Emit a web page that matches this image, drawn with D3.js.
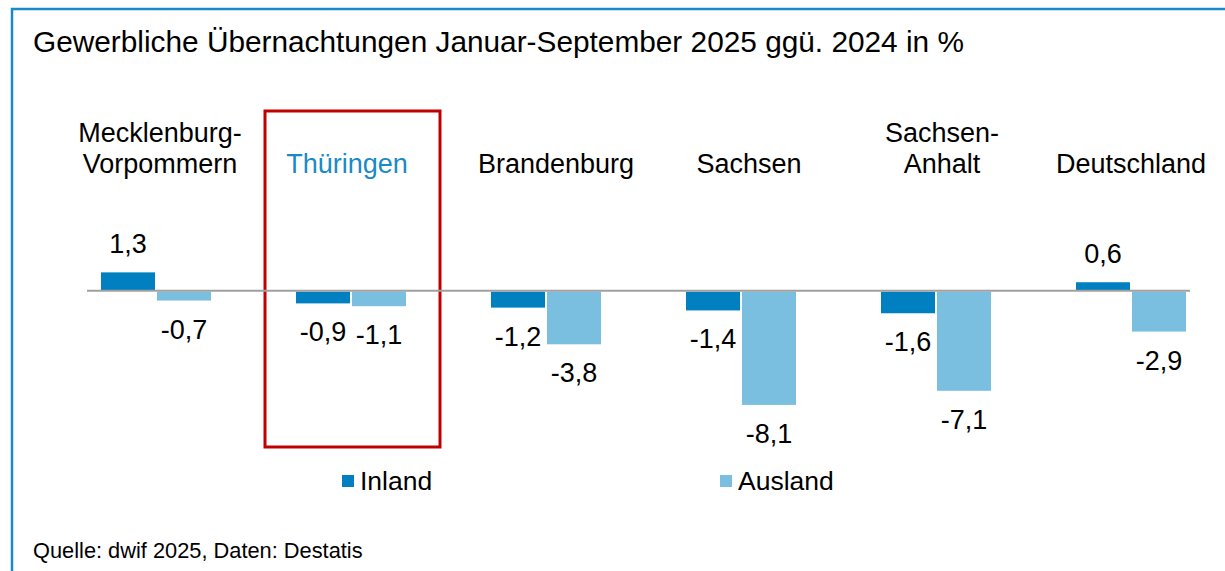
<!DOCTYPE html>
<html>
<head>
<meta charset="utf-8">
<script src="https://cdn.jsdelivr.net/npm/d3@7"></script>
<style>
  body { margin: 0; background: #fff; }
  svg { display: block; font-family: Arial, "Liberation Sans", sans-serif; }
</style>
</head>
<body>
<div id="chart"></div>
<script>
var width = 1225;
var height = 571;

// data
var regions = ["Mecklenburg-Vorpommern", "Thüringen", "Brandenburg", "Sachsen", "Sachsen-Anhalt", "Deutschland"];
var regionLines = [["Mecklenburg-", "Vorpommern"], ["Thüringen"], ["Brandenburg"], ["Sachsen"], ["Sachsen-", "Anhalt"], ["Deutschland"]];
var inland = [1.3, -0.9, -1.2, -1.4, -1.6, 0.6];
var ausland = [-0.7, -1.1, -3.8, -8.1, -7.1, -2.9];
var seriesNames = ["Inland", "Ausland"];
var colors = ["#0080c0", "#7bbfe0"];
var highlight = "Thüringen";

// the hand-placed region labels sit a little off the group centre
var labelShift = [4, -4, 10, 8, 6, 0];

var svg = d3.select("#chart").append("svg")
    .attr("width", width)
    .attr("height", height);

// outer blue frame (runs off the right/bottom edge)
svg.append("rect")
    .attr("x", 12).attr("y", 9)
    .attr("width", 1240).attr("height", 600)
    .attr("fill", "none")
    .attr("stroke", "#1a8ac6")
    .attr("stroke-width", 2.5);

svg.append("text")
    .attr("x", 33).attr("y", 52)
    .style("font-size", "29.8px")
    .attr("fill", "#000")
    .text("Gewerbliche Übernachtungen Januar-September 2025 ggü. 2024 in %");

var x = d3.scaleBand()
    .domain(regions)
    .range([58.5, 1228.5])
    .paddingInner(0);

var y = d3.scaleLinear()
    .domain([-8.1, 1.3])
    .range([290.7 + 8.1 * 14.1, 290.7 - 1.3 * 14.1]);

var barW = 54, gap = 1;

var data = regions.map(function(r, i) {
  return { region: r, values: [inland[i], ausland[i]] };
});

// highlight box for Thüringen
svg.append("rect")
    .attr("x", x(highlight) + x.bandwidth() / 2 - 86)
    .attr("y", 111)
    .attr("width", 175)
    .attr("height", 336)
    .attr("fill", "none")
    .attr("stroke", "#c00000")
    .attr("stroke-width", 3);

var g = svg.selectAll(".group")
    .data(data)
  .enter().append("g")
    .attr("class", "group")
    .attr("transform", function(d) { return "translate(" + (x(d.region) + x.bandwidth() / 2) + ",0)"; });

g.selectAll("rect")
    .data(function(d) { return d.values; })
  .enter().append("rect")
    .attr("x", function(d, i) { return i === 0 ? -gap - barW : gap; })
    .attr("y", function(d) { return d >= 0 ? y(d) : y(0) + 1; })
    .attr("width", barW)
    .attr("height", function(d) { return d >= 0 ? y(0) - y(d) : y(d) - y(0) - 1; })
    .attr("fill", function(d, i) { return colors[i]; });

g.selectAll(".val")
    .data(function(d) { return d.values; })
  .enter().append("text")
    .attr("class", "val")
    .attr("x", function(d, i) { return i === 0 ? -gap - barW / 2 : gap + barW / 2; })
    .attr("y", function(d) { return d >= 0 ? y(d) - 19 : y(d) + 38; })
    .attr("text-anchor", "middle")
    .style("font-size", "27px")
    .attr("fill", "#000")
    .text(function(d) { return d3.format(".1f")(d).replace(".", ",").replace("−", "-"); });

// category labels
g.append("text")
    .attr("text-anchor", "middle")
    .style("font-size", "27px")
    .attr("fill", function(d) { return d.region === highlight ? "#1a8ac6" : "#000"; })
  .selectAll("tspan")
    .data(function(d, i) { return regionLines[i].map(function(t) { return { t: t, dx: labelShift[i] }; }); })
  .enter().append("tspan")
    .attr("x", function(d) { return d.dx; })
    .attr("y", function(d, i, nodes) { return 173 - (nodes.length - 1 - i) * 31; })
    .text(function(d) { return d.t; });

// zero line
svg.append("line")
    .attr("x1", 87).attr("x2", 1190)
    .attr("y1", y(0)).attr("y2", y(0))
    .attr("stroke", "#a0a0a0")
    .attr("stroke-width", 2);

// legend
var legendX = [342, 720];
var legend = svg.selectAll(".legend")
    .data(seriesNames)
  .enter().append("g")
    .attr("class", "legend")
    .attr("transform", function(d, i) { return "translate(" + legendX[i] + ",475)"; });

legend.append("rect")
    .attr("width", 12).attr("height", 12)
    .attr("fill", function(d, i) { return colors[i]; });

legend.append("text")
    .attr("x", 18).attr("y", 14.5)
    .style("font-size", "26.5px")
    .attr("fill", "#000")
    .text(function(d) { return d; });

svg.append("text")
    .attr("x", 33).attr("y", 558)
    .style("font-size", "21.8px")
    .attr("fill", "#000")
    .text("Quelle: dwif 2025, Daten: Destatis");
</script>
</body>
</html>
